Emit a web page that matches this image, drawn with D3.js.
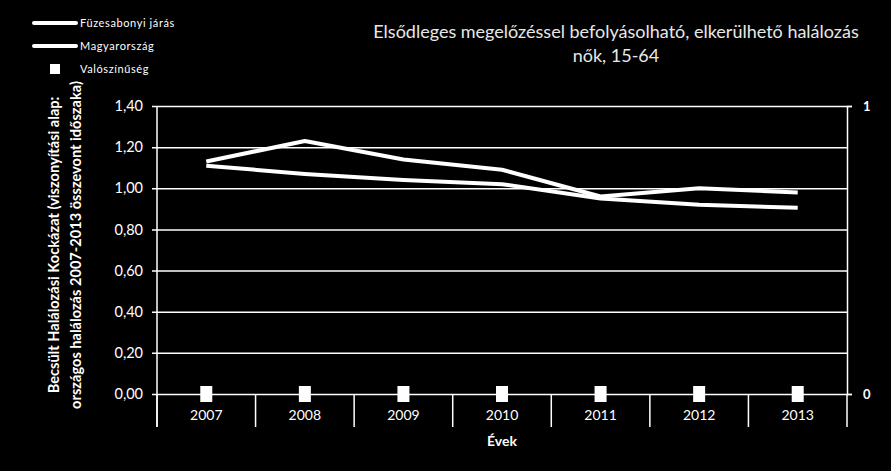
<!DOCTYPE html>
<html>
<head>
<meta charset="utf-8">
<script src="https://cdn.jsdelivr.net/npm/d3@7"></script>
<style>
  body { margin: 0; background: #000; }
  svg { display: block; }
  text { font-family: Lato, "Open Sans", sans-serif; fill: #fff; }
</style>
</head>
<body>
<svg></svg>
<script>
const years = ["2007", "2008", "2009", "2010", "2011", "2012", "2013"]
const fuzesabony = [1.13, 1.23, 1.14, 1.09, 0.96, 1.00, 0.98]
const magyarorszag = [1.11, 1.07, 1.04, 1.02, 0.95, 0.92, 0.905]
const valoszinuseg = [0, 0, 0, 0, 0, 0, 0]
const yTicks = [0, 0.2, 0.4, 0.6, 0.8, 1.0, 1.2, 1.4]
const rightTicks = [0, 1]

const svg = d3.select("svg").attr("width", 891).attr("height", 471)

const plotLeft = 157, plotRight = 847, plotTop = 106, plotBottom = 394

const x = d3.scaleBand().domain(years).range([plotLeft, plotRight])
const y = d3.scaleLinear().domain([0, 1.4]).range([plotBottom, plotTop])
const y2 = d3.scaleLinear().domain([0, 1]).range([plotBottom, plotTop])

// gridlines + left axis
const yAxis = svg.append("g")
  .attr("transform", `translate(${plotLeft},0)`)
  .call(d3.axisLeft(y).tickValues(yTicks).tickSize(-(plotRight - plotLeft)).tickSizeOuter(0)
    .tickFormat(d => d3.format(".2f")(d).replace(".", ",")))
yAxis.select(".domain").remove()
yAxis.selectAll(".tick line").attr("stroke", "#fff").attr("stroke-width", 1.5).attr("x1", -5)
yAxis.selectAll(".tick text").attr("x", -14).attr("font-size", 14.5).style("font-family", "Lato, sans-serif")

svg.append("line").attr("x1", plotLeft).attr("x2", plotLeft).attr("y1", plotTop).attr("y2", 427)
  .attr("stroke", "#fff").attr("stroke-width", 1.5)

// right axis
const r = svg.append("g")
  .attr("transform", `translate(${plotRight},0)`)
  .call(d3.axisRight(y2).tickValues(rightTicks).tickSize(5).tickFormat(d3.format("d")))
r.select(".domain").attr("stroke", "#fff").attr("stroke-width", 1.5)
r.selectAll(".tick line").attr("stroke", "#fff").attr("stroke-width", 1.5)
r.selectAll(".tick text").attr("x", 16).attr("font-size", 13).attr("font-weight", "bold")

// x category separators
const xg = svg.append("g").attr("transform", `translate(0,${plotBottom})`)
  .call(d3.axisBottom(x).tickSize(0))
xg.select(".domain").remove()
xg.selectAll(".tick text").attr("y", 16).attr("font-size", 14)
const seps = [plotLeft].concat(years.map(d => x(d) + x.bandwidth()))
svg.selectAll("line.sep").data(seps).enter().append("line")
  .attr("x1", d => d).attr("x2", d => d).attr("y1", plotBottom).attr("y2", 427)
  .attr("stroke", "#fff").attr("stroke-width", 1.5)

svg.append("text").attr("x", (plotLeft + plotRight) / 2).attr("y", 446).attr("text-anchor", "middle")
  .attr("font-size", 14).attr("font-weight", "bold").text("Évek")

// left axis title
const yt = svg.append("text").attr("transform", "translate(59,245) rotate(-90)")
  .attr("text-anchor", "middle").attr("font-size", 14.6).attr("font-weight", "bold")
yt.append("tspan").attr("x", 0).attr("y", 0).text("Becsült Halálozási Kockázat (viszonyítási alap:")
yt.append("tspan").attr("x", 0).attr("y", 22).text("országos halálozás 2007-2013 összevont időszaka)")

// title
const title = svg.append("text").attr("text-anchor", "middle").attr("font-size", 18)
  .style("fill", "#e8e8e8")
title.append("tspan").attr("x", 616).attr("y", 38).text("Elsődleges megelőzéssel befolyásolható, elkerülhető halálozás")
title.append("tspan").attr("x", 616).attr("y", 62).text("nők, 15-64")

// series lines
const line = d3.line().x((d, i) => x(years[i]) + x.bandwidth() / 2).y(d => y(d))
;[fuzesabony, magyarorszag].forEach(s => {
  svg.append("path").datum(s).attr("d", line)
    .attr("fill", "none").attr("stroke", "#fff").attr("stroke-width", 4)
    .attr("stroke-linejoin", "round")
})

// probability markers
svg.selectAll("rect.p").data(valoszinuseg).enter().append("rect")
  .attr("x", (d, i) => x(years[i]) + x.bandwidth() / 2 - 6)
  .attr("y", d => y2(d) - 8).attr("width", 12).attr("height", 16)
  .attr("fill", "#fff")

// legend
const legend = [
  { name: "Füzesabonyi járás", type: "line" },
  { name: "Magyarország", type: "line" },
  { name: "Valószínűség", type: "rect" }
]
const lg = svg.append("g")
legend.forEach((d, i) => {
  const ly = 23 + i * 23
  if (d.type === "line") {
    lg.append("line").attr("x1", 34).attr("x2", 76).attr("y1", ly).attr("y2", ly)
      .attr("stroke", "#fff").attr("stroke-width", 4).attr("stroke-linecap", "round")
  } else {
    lg.append("rect").attr("x", 50).attr("y", ly - 5).attr("width", 10).attr("height", 10).attr("fill", "#fff")
  }
  lg.append("text").attr("x", 80).attr("y", ly + 4).attr("font-size", 11)
    .attr("letter-spacing", 0.6).text(d.name)
})
</script>
</body>
</html>
